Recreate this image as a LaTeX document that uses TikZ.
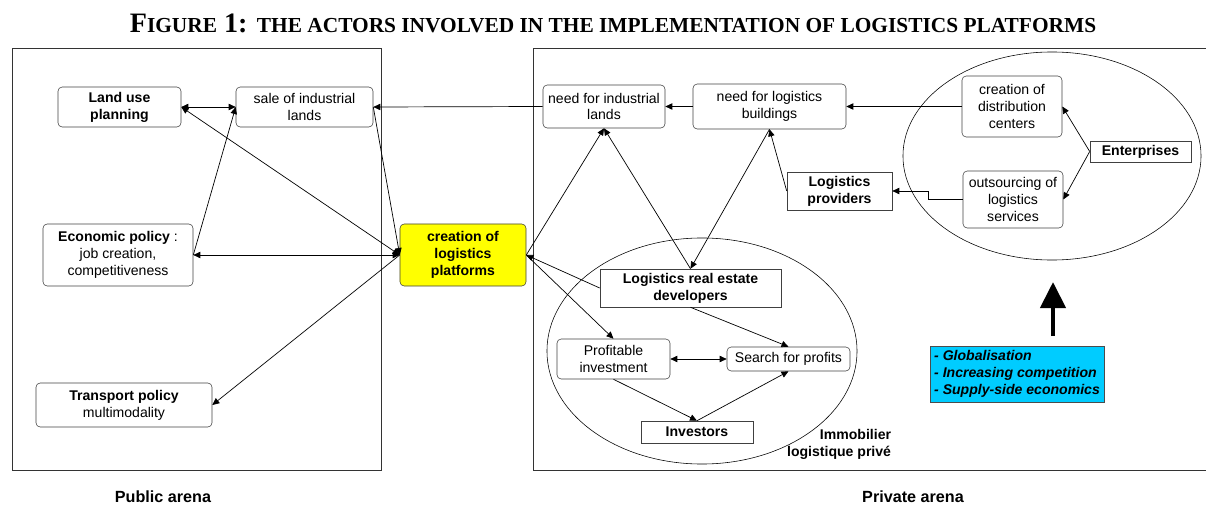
\documentclass[tikz,border=0pt]{standalone}
\usepackage{fontspec}
\setmainfont{Liberation Sans}
\newfontfamily\titlefont{Liberation Serif}
\usetikzlibrary{positioning}
\usetikzlibrary{arrows.meta}
\definecolor{platyellow}{RGB}{255,255,0}
\definecolor{trendblue}{RGB}{0,204,255}

\begin{document}
\begin{tikzpicture}[x=0.025cm, y=-0.025cm,
            >={Triangle[length=5pt,width=4.5pt]},
            block/.style={rectangle, draw=black!75, rounded corners=3pt, align=center, inner sep=1pt, font=\fontsize{10}{12}\selectfont},
            plainblock/.style={rectangle, draw=black!75, align=center, inner sep=1pt, font=\fontsize{10}{12}\selectfont\bfseries},
            link/.style={line width=0.5pt}
        ]
            \useasboundingbox (0,0) rectangle (1206,506);

            % title
            \node (title) at (613,23) {\titlefont\bfseries\fontsize{20}{20}\selectfont F\fontsize{15.2}{15}\selectfont IGURE\fontsize{20}{20}\selectfont~1: \fontsize{15.2}{15}\selectfont THE ACTORS INVOLVED IN THE IMPLEMENTATION OF LOGISTICS PLATFORMS};

            % arenas
            \draw[black!80, line width=0.6pt] (12,48) rectangle (381,470);
            \draw[black!80, line width=0.6pt] (1206,48) -- (533,48) -- (533,470) -- (1206,470);
            \draw[line width=0.4pt] (1052,156) ellipse (3.725cm and 2.6cm);
            \draw[line width=0.4pt] (702,351) ellipse (3.875cm and 2.825cm);

            % public side
            \node[block, font=\fontsize{10}{12}\selectfont\bfseries, minimum width=3.075cm, minimum height=1cm] (land) at (119.5,107) {Land use\\planning};
            \node[block, minimum width=3.425cm, minimum height=1cm] (sale) at (304.5,107) {sale of industrial\\lands};
            \node[block, minimum width=3.75cm, minimum height=1.55cm] (econ) at (118,255) {\textbf{Economic policy} :\\job creation,\\competitiveness};
            \node[block, minimum width=4.4cm, minimum height=1.1cm] (transport) at (124,405) {\textbf{Transport policy}\\multimodality};
            \node[block, fill=platyellow, font=\fontsize{10}{12}\selectfont\bfseries, minimum width=3.15cm, minimum height=1.55cm] (creation) at (463,255) {creation of\\logistics\\platforms};

            % private side
            \node[block, minimum width=3.05cm, minimum height=1.075cm] (needind) at (604,106.5) {need for industrial\\lands};
            \node[block, minimum width=3.825cm, minimum height=1.125cm] (needbuild) at (769.5,106.5) {need for logistics\\buildings};
            \node[block, minimum width=2.5cm, minimum height=1.525cm] (distrib) at (1012,106.5) {creation of\\distribution\\centers};
            \node[block, minimum width=2.5cm, minimum height=1.425cm] (outsrc) at (1013,199.5) {outsourcing of\\logistics\\services};
            \node[plainblock, minimum width=2.525cm, minimum height=0.525cm] (enterp) at (1140.5,151.5) {Enterprises};
            \node[plainblock, minimum width=2.625cm, minimum height=0.95cm] (providers) at (839.5,191) {Logistics\\providers};
            \node[plainblock, minimum width=4.525cm, minimum height=0.95cm] (develop) at (690.5,288) {Logistics real estate\\developers};
            \node[block, minimum width=2.825cm, minimum height=1cm] (profitable) at (613.5,359) {Profitable\\investment};
            \node[block, minimum width=3.075cm, minimum height=0.6cm] (search) at (788.5,359) {Search for profits};
            \node[plainblock, minimum width=2.8cm, minimum height=0.55cm] (investors) at (697,432) {Investors};
            \node[align=right, font=\fontsize{10}{12}\selectfont\bfseries, anchor=east] (immo) at (896,444) {Immobilier\\logistique privé};

            % trends
            \node[rectangle, draw=black!70, fill=trendblue, align=left, inner sep=2pt, minimum width=4.35cm, minimum height=1.4cm, font=\fontsize{10}{12.2}\selectfont\bfseries\itshape] (trends) at (1017,374) {- Globalisation\\- Increasing competition\\- Supply-side economics\hspace{2.3em}};
            \coordinate (pushbase) at (1053,336);
            \coordinate (pushtip) at (1053,282);
            \draw[-{Triangle[length=0.65cm,width=0.62cm]}, line width=0.12cm] (pushbase) -- (pushtip);

            % public links
            \draw[<->, link] (land) -- (sale);
            \draw[->, link] (econ.east) -- (sale.west);
            \draw[<->, link] (creation.west) -- (land.east);
            \draw[->, link] (sale.east) -- (creation.west);
            \draw[<->, link] (creation.west) -- (econ.east);
            \draw[->, link] (creation.west) -- (transport.east);

            % private links
            \draw[->, link] (needind.west) -- (sale.east);
            \draw[->, link] (needbuild) -- (needind);
            \draw[->, link] (distrib) -- (needbuild);
            \draw[->, link] (enterp.west) -- (distrib.east);
            \draw[->, link] (enterp.west) -- (outsrc.east);
            \draw[->, link] (outsrc.west) -| (928,191) -- (providers.east);
            \draw[->, link] (providers.west) -- (needbuild.south);
            \draw[->, link] (needbuild.south) -- (develop.north);
            \draw[->, link] (develop.north) -- (needind.south);
            \draw[->, link] (creation.east) -- (needind.south);
            \draw[->, link] (develop.west) -- (creation.east);
            \draw[->, link] (creation.east) -- (profitable.north);
            \draw[->, link] (develop.south) -- (search.north);
            \draw[<->, link] (profitable) -- (search);
            \draw[->, link] (profitable.south) -- (investors.north);
            \draw[->, link] (investors.north) -- (search.south);

            % arena labels
            \node[font=\fontsize{11.5}{14}\selectfont\bfseries] (public) at (163,497) {Public arena};
            \node[font=\fontsize{11.5}{14}\selectfont\bfseries] (private) at (913,497) {Private arena};
        \end{tikzpicture}
\end{document}
